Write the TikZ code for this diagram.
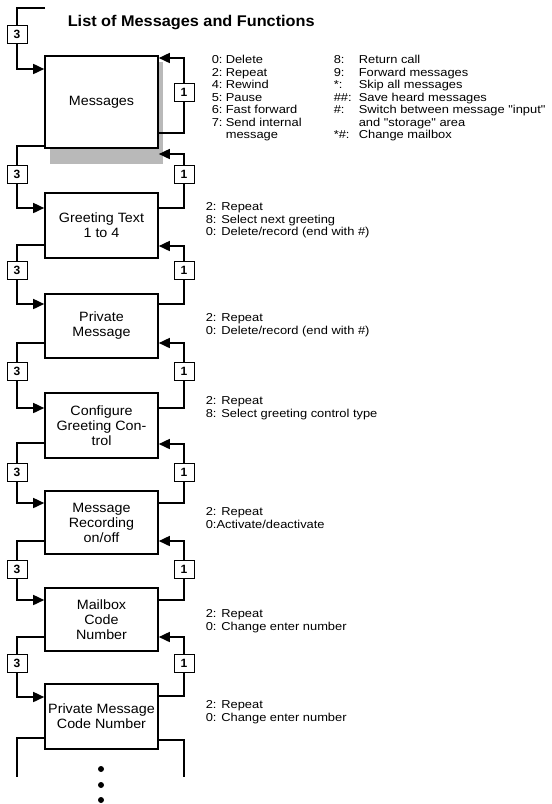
\documentclass[tikz,border=0pt]{standalone}
\usepackage{fontspec}
\setmainfont{Liberation Sans}
\newfontfamily\descfont[FakeStretch=1.12]{Liberation Sans}
\newfontfamily\boxfont[FakeStretch=1.06]{Liberation Sans}
\newfontfamily\titlefont[FakeStretch=1.05]{Liberation Sans}
\usetikzlibrary{arrows.meta}
\newcommand\ka[2]{\makebox[14pt][l]{#1}#2}
\newcommand\kb[2]{\makebox[25pt][l]{#1}#2}
\begin{document}
\begin{tikzpicture}[x=1pt,y=-1pt,
  line width=1.6pt,
  mbox/.style={draw, fill=white, minimum width=113pt, inner sep=0pt, align=center,
    font=\boxfont\fontsize{13.5}{15}\selectfont, line width=1.6pt},
  lbl/.style={draw, fill=white, line width=0.8pt, minimum width=20pt, minimum height=18pt,
    inner sep=0pt, font=\bfseries\fontsize{12}{12}\selectfont},
  desc/.style={anchor=north west, inner sep=0pt, align=left,
    font=\descfont\fontsize{11.5}{12.5}\selectfont},
  arr/.style={-{Triangle[length=11pt,width=10pt]}}
]
\useasboundingbox (0,0) rectangle (552,804);
\fill[white] (0,0) rectangle (552,804);

% title
\node[anchor=base west, inner sep=0pt, font=\titlefont\bfseries\fontsize{15.5}{16}\selectfont]
  (title) at (67,26) {List of Messages and Functions};

% shadow + boxes
\fill[gray!55] (50,62) rectangle (163,164);
\node[mbox, minimum height=92pt] (msg) at (101.5,102) {Messages};
\node[mbox, minimum height=65pt] (grt) at (101.5,225.5) {Greeting Text\\1 to 4};
\node[mbox, minimum height=64pt] (prv) at (101.5,326) {Private\\Message};
\node[mbox, minimum height=65pt] (cfg) at (101.5,425.5) {Configure\\Greeting Con-\\trol};
\node[mbox, minimum height=63pt] (rec) at (101.5,522.5) {Message\\Recording\\on/off};
\node[mbox, minimum height=63pt] (mbx) at (101.5,619.5) {Mailbox\\Code\\Number};
\node[mbox, minimum height=65pt] (pmc) at (101.5,716.5) {Private Message\\Code Number};

% top loop
\coordinate (topin) at (45,8);
\node[lbl] (l3top) at (17,34.5) {3};
\draw (topin) -| (l3top.north);
\draw[arr] (l3top.south) |- (msg.west |- 0,69);
\node[lbl] (l1top) at (184,92) {1};
\draw (msg.east |- 0,133) -| (l1top.south);
\draw[arr] (l1top.north) |- (msg.east |- 0,58);

% connections between boxes
\foreach \u/\l/\ly/\a/\b/\c/\d [count=\i] in {
  msg/grt/174.5/146/208/208/154,
  grt/prv/270/245/304/304/246,
  prv/cfg/371.5/343/408/408/343,
  cfg/rec/472/443/503/503/444,
  rec/mbx/569.5/541/600/600/541,
  mbx/pmc/663.5/637/697/696/637}{
  \node[lbl] (lt\i) at (17,\ly) {3};
  \node[lbl] (lo\i) at (184,\ly) {1};
  \draw (\u.west |- 0,\a) -| (lt\i.north);
  \draw[arr] (lt\i.south) |- (\l.west |- 0,\b);
  \draw (\l.east |- 0,\c) -| (lo\i.south);
  \draw[arr] (lo\i.north) |- (\u.east |- 0,\d);
}

% bottom open ends
\coordinate (endL) at (17,777);
\coordinate (endR) at (184,777);
\draw (pmc.west |- 0,738) -| (endL);
\draw (pmc.east |- 0,740) -| (endR);
\fill (101,769) circle (3);
\fill (101,785) circle (3);
\fill (101,800) circle (3);

% descriptions
\node[desc] (dm1) at (211,54.5) {\ka{0:}{Delete}\\ \ka{2:}{Repeat}\\ \ka{4:}{Rewind}\\
  \ka{5:}{Pause}\\ \ka{6:}{Fast forward}\\ \ka{7:}{Send internal}\\ \hspace*{14pt}message};
\node[desc] (dm2) at (333,54.5) {\kb{8:}{Return call}\\ \kb{9:}{Forward messages}\\
  \kb{*:}{Skip all messages}\\ \kb{\#\#:}{Save heard messages}\\
  \kb{\#:}{Switch between message "input"}\\ \hspace*{25pt}and "storage" area\\
  \kb{*\#:}{Change mailbox}};
\node[desc] (dg) at (205,202) {2: Repeat\\ 8: Select next greeting\\ 0: Delete/record (end with \#)};
\node[desc] (dp) at (205,313) {2: Repeat\\ 0: Delete/record (end with \#)};
\node[desc] (dc) at (205,396) {2: Repeat\\ 8: Select greeting control type};
\node[desc] (dr) at (205,507) {2: Repeat\\ 0:Activate/deactivate};
\node[desc] (db) at (205,609) {2: Repeat\\ 0: Change enter number};
\node[desc] (dpc) at (205,700) {2: Repeat\\ 0: Change enter number};
\end{tikzpicture}
\end{document}
